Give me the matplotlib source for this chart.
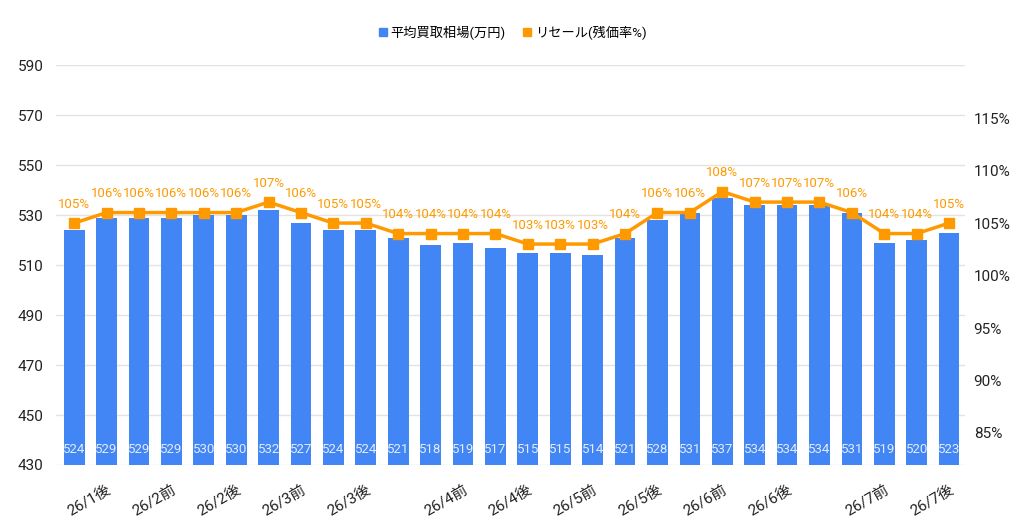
import matplotlib
matplotlib.use('Agg')
import matplotlib.pyplot as plt
from matplotlib.lines import Line2D
import numpy as np

plt.rcParams['font.family'] = ['Roboto', 'Noto Sans CJK JP', 'DejaVu Sans']

# data
tick_labels = ['', '26/1後', '', '26/2前', '', '26/2後', '', '26/3前', '', '26/3後',
               '', '', '26/4前', '', '26/4後', '', '26/5前', '', '26/5後', '',
               '26/6前', '', '26/6後', '', '', '26/7前', '', '26/7後']
price = [524, 529, 529, 529, 530, 530, 532, 527, 524, 524,
         521, 518, 519, 517, 515, 515, 514, 521, 528, 531,
         537, 534, 534, 534, 531, 519, 520, 523]
resale = [105, 106, 106, 106, 106, 106, 107, 106, 105, 105,
          104, 104, 104, 104, 103, 103, 103, 104, 106, 106,
          108, 107, 107, 107, 106, 104, 104, 105]
left_ticks = [430, 450, 470, 490, 510, 530, 550, 570, 590]
right_ticks = [85, 90, 95, 100, 105, 110, 115]
series_names = ['平均買取相場(万円)', 'リセール(残価率%)']

blue = '#4285F4'
orange = '#FF9900'

fig = plt.figure(figsize=(10.24, 5.21), dpi=100)
ax = fig.add_axes([0.0547, 0.1075, 0.888, 0.7675])
x = np.arange(len(price))

ax.bar(x, price, width=0.64, color=blue, zorder=2)
ax.set_ylim(430, 590)
ax.set_xlim(-0.56, 27.5)
ax.set_yticks(left_ticks)
ax.grid(axis='y', color='#e3e3e3', linewidth=1, zorder=0)
for s in ax.spines.values():
    s.set_visible(False)
ax.tick_params(axis='y', length=0, pad=9, labelsize=11, labelcolor='#222222')
ax.set_xticks(x)
ax.set_xticklabels(tick_labels, rotation=30, ha='right', rotation_mode='anchor',
                   fontsize=11, color='#222222')
ax.tick_params(axis='x', length=0, pad=13)

for xi, v in zip(x, price):
    ax.text(xi, 433.5, str(v), ha='center', va='bottom', fontsize=9.5, color='#e3ecfd', zorder=3)

ax2 = ax.twinx()
ax2.plot(x, resale, color=orange, linewidth=2.5, marker='s', markersize=7, zorder=4)
ax2.set_ylim(81.95, 120.05)
ax2.set_yticks(right_ticks)
ax2.set_yticklabels([f'{t}%' for t in right_ticks])
ax2.tick_params(axis='y', length=0, pad=6, labelsize=11, labelcolor='#222222')
for s in ax2.spines.values():
    s.set_visible(False)
for xi, v in zip(x, resale):
    ax2.annotate(f'{v}%', (xi, v), xytext=(0, 9), textcoords='offset points',
                 ha='center', va='bottom', fontsize=9.5, color=orange)

handles = [Line2D([], [], marker='s', color=blue, linestyle='none', markersize=6),
           Line2D([], [], marker='s', color=orange, linestyle='none', markersize=6)]
fig.legend(handles, series_names, loc='center', bbox_to_anchor=(0.5, 0.937), ncol=2,
           frameon=False, fontsize=9.5, handletextpad=0.2, columnspacing=1.2,
           handlelength=0.8)

fig.savefig('out.png', dpi=100)
